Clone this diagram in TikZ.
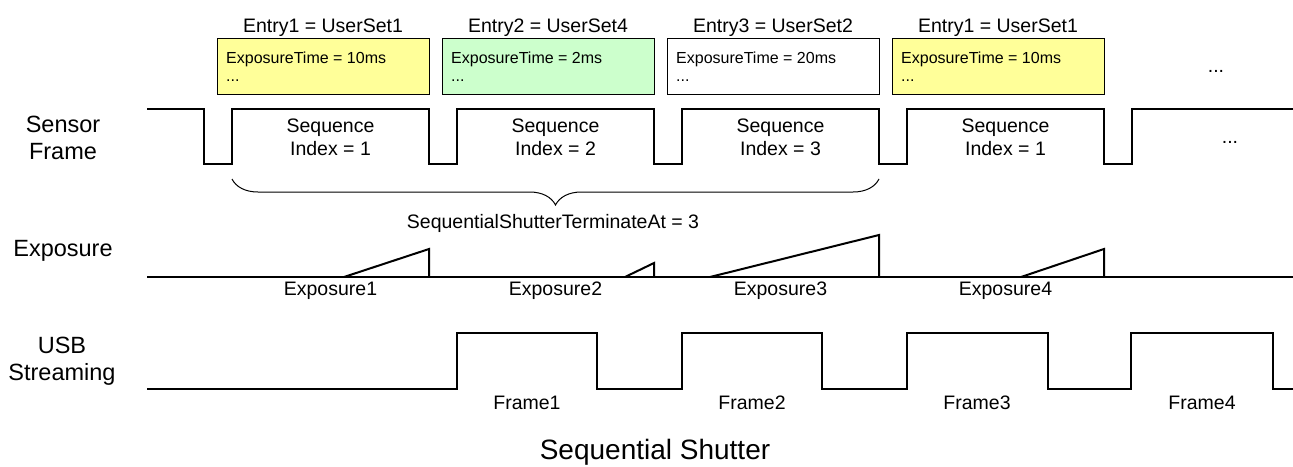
\documentclass[tikz,border=0pt]{standalone}
\usepackage{fontspec}
\setmainfont{Liberation Sans}
\usetikzlibrary{decorations.pathreplacing}
\definecolor{yel}{HTML}{FFFF99}
\definecolor{grn}{HTML}{CCFFCC}
\begin{document}
\begin{tikzpicture}[x=1pt,y=-1pt,
  wave/.style={line width=2pt, line join=miter},
  ebox/.style={draw, line width=1.3pt, minimum width=212pt, minimum height=56pt, anchor=north west, inner sep=0pt},
  big/.style={font=\fontsize{23.5}{27.5}\selectfont, align=center, inner sep=0pt},
  mid/.style={font=\fontsize{19.5}{23}\selectfont, align=center, inner sep=0pt},
  small/.style={font=\fontsize{16}{19}\selectfont, inner sep=0pt, anchor=base west},
  ttl/.style={font=\fontsize{28}{32}\selectfont, inner sep=0pt, anchor=base}]
\useasboundingbox (0,0) rectangle (1293,466);

% left labels
\node[big] (lsensor) at (63,138) {Sensor\\Frame};
\node[big] (lexp) at (63,251) {Exposure};
\node[big] (lusb) at (62,361) {USB\\Streaming};

% entry titles
\node[mid, anchor=base] (t1) at (323,32) {Entry1 = UserSet1};
\node[mid, anchor=base] (t2) at (548,32) {Entry2 = UserSet4};
\node[mid, anchor=base] (t3) at (773,32) {Entry3 = UserSet2};
\node[mid, anchor=base] (t4) at (998,32) {Entry1 = UserSet1};

% entry boxes
\node[ebox, fill=yel] (box1) at (217,38) {};
\node[ebox, fill=grn] (box2) at (442,38) {};
\node[ebox, fill=white] (box3) at (667,38) {};
\node[ebox, fill=yel] (box4) at (892,38) {};
\node[small] (x1) at (226,63) {ExposureTime = 10ms};
\node[small] (d1) at (226,81) {...};
\node[small] (x2) at (451,63) {ExposureTime = 2ms};
\node[small] (d2) at (451,81) {...};
\node[small] (x3) at (676,63) {ExposureTime = 20ms};
\node[small] (d3) at (676,81) {...};
\node[small] (x4) at (901,63) {ExposureTime = 10ms};
\node[small] (d4) at (901,81) {...};
\node[mid, anchor=base] (dtop) at (1216,72) {...};

% sensor frame waveform
\draw[wave] (147,109) -- (204,109) -- (204,164) -- (232,164) -- (232,109)
  -- (429,109) -- (429,164) -- (457,164) -- (457,109)
  -- (654,109) -- (654,164) -- (682,164) -- (682,109)
  -- (879,109) -- (879,164) -- (907,164) -- (907,109)
  -- (1104,109) -- (1104,164) -- (1132,164) -- (1132,109) -- (1293,109);
\node[mid] (s1) at (330.5,137) {Sequence\\Index = 1};
\node[mid] (s2) at (555.5,137) {Sequence\\Index = 2};
\node[mid] (s3) at (780.5,137) {Sequence\\Index = 3};
\node[mid] (s4) at (1005.5,137) {Sequence\\Index = 1};
\node[mid, anchor=base] (dmid) at (1230,143) {...};

% brace
\coordinate (b1) at (232,179);
\coordinate (b2) at (879,179);
\draw[line width=1pt, decorate, decoration={brace, amplitude=26pt, mirror}] (b1) -- (b2);
\node[mid] (ssta) at (553,223) {SequentialShutterTerminateAt = 3};

% exposure
\draw[wave] (147,277) -- (1293,277);
\draw[wave] (344,277) -- (429,249) -- (429,277);
\draw[wave] (625,277) -- (654,263) -- (654,277);
\draw[wave] (710,277) -- (879,235) -- (879,277);
\draw[wave] (1021,277) -- (1104,249) -- (1104,277);
\node[mid] (e1) at (330.5,291) {Exposure1};
\node[mid] (e2) at (555.5,291) {Exposure2};
\node[mid] (e3) at (780.5,291) {Exposure3};
\node[mid] (e4) at (1005.5,291) {Exposure4};

% usb streaming
\draw[wave] (147,389) -- (457,389) -- (457,333) -- (597,333) -- (597,389)
  -- (682,389) -- (682,333) -- (822,333) -- (822,389)
  -- (907,389) -- (907,333) -- (1048,333) -- (1048,389)
  -- (1131,389) -- (1131,333) -- (1273,333) -- (1273,389) -- (1293,389);
\node[mid] (f1) at (527,403) {Frame1};
\node[mid] (f2) at (752,403) {Frame2};
\node[mid] (f3) at (977,403) {Frame3};
\node[mid] (f4) at (1202,403) {Frame4};

\node[ttl] (title) at (655,459) {Sequential Shutter};
\end{tikzpicture}
\end{document}
